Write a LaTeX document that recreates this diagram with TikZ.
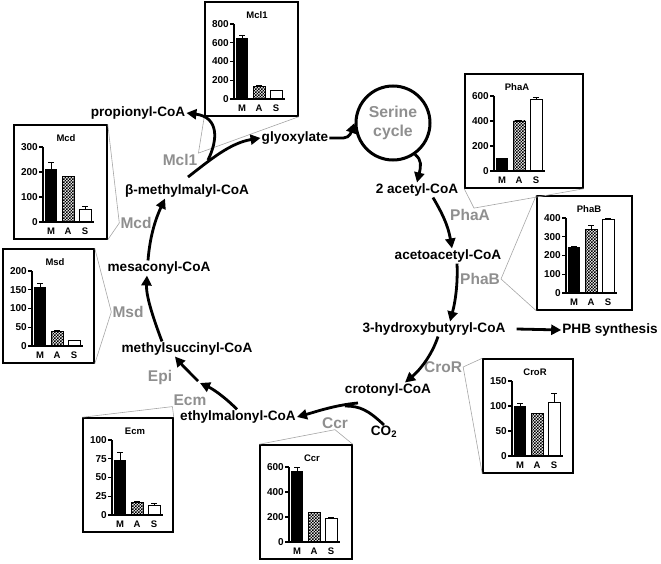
\documentclass[tikz,border=0pt]{standalone}
\usepackage{fontspec}
\setmainfont{Liberation Sans}
\usetikzlibrary{arrows.meta,patterns}
\definecolor{enzgray}{gray}{0.56}
\definecolor{calloutgray}{gray}{0.65}
\pgfdeclarepatternformonly{finecheck}{\pgfqpoint{-0.1pt}{-0.1pt}}{\pgfqpoint{3.1pt}{3.1pt}}{\pgfqpoint{3pt}{3pt}}{%
  \pgfpathrectangle{\pgfpointorigin}{\pgfqpoint{1.5pt}{1.5pt}}%
  \pgfpathrectangle{\pgfqpoint{1.5pt}{1.5pt}}{\pgfqpoint{1.5pt}{1.5pt}}%
  \pgfusepath{fill}}
\newcommand\setbars[6]{\gdef\bM{#1}\gdef\eM{#2}\gdef\bA{#3}\gdef\eA{#4}\gdef\bS{#5}\gdef\eS{#6}}
% #1 name, #2 left, #3 top, #4 title, #5 ymax, #6 ticks, #7 width
\newcommand\barchart[7]{%
\begin{scope}[shift={(#2,#3)}]
 \node[cbox, minimum width=#7pt] (#1) at ({#7/2},57) {};
 \node[ctitle] at (52,13) {#4};
 \pgfmathsetmacro\sc{75/#5}
 \foreach \tk in {#6} {\draw[axisl] (25,{97-\sc*\tk}) -- (29,{97-\sc*\tk}); \node[ctick] at (25,{97-\sc*\tk}) {\tk};}
 \pgfmathsetmacro\yM{97-\sc*\bM}\pgfmathsetmacro\yMe{97-\sc*(\bM+\eM)}
 \pgfmathsetmacro\yA{97-\sc*\bA}\pgfmathsetmacro\yAe{97-\sc*(\bA+\eA)}
 \pgfmathsetmacro\yS{97-\sc*\bS}\pgfmathsetmacro\ySe{97-\sc*(\bS+\eS)}
 \draw[errb] (37,\yM) -- (37,\yMe) (34,\yMe) -- (40,\yMe);
 \draw[errb] (54,\yA) -- (54,\yAe) (51,\yAe) -- (57,\yAe);
 \draw[errb] (71,\yS) -- (71,\ySe) (68,\ySe) -- (74,\ySe);
 \fill (31,97) rectangle (43,\yM);
 \draw[line width=0.8pt, pattern=finecheck] (48,97) rectangle (60,\yA);
 \draw[line width=0.8pt, fill=white] (65,97) rectangle (77,\yS);
 \draw[axisl] (29,22) -- (29,97) -- (80,97);
 \node[clab] at (37,106) {M}; \node[clab] at (54,106) {A}; \node[clab] at (71,106) {S};
\end{scope}}
\begin{document}
\begin{tikzpicture}[x=1pt,y=-1pt,
  met/.style={font=\fontsize{13.6}{15}\selectfont\bfseries, inner sep=1pt},
  enz/.style={font=\fontsize{15.5}{17}\selectfont\bfseries, text=enzgray, inner sep=1pt},
  arr/.style={line width=2.8pt, -{Triangle[length=10pt,width=10pt]}},
  plainarr/.style={line width=2.8pt},
  callout/.style={draw=calloutgray, line width=0.6pt},
  cbox/.style={draw, line width=1.5pt, minimum height=114pt, inner sep=0pt},
  ctitle/.style={font=\fontsize{9.5}{11}\selectfont\bfseries},
  ctick/.style={font=\fontsize{10}{11}\selectfont\bfseries, anchor=east, inner sep=1pt},
  clab/.style={font=\fontsize{9.5}{11}\selectfont\bfseries},
  axisl/.style={line width=1.2pt},
  errb/.style={line width=0.9pt},
]
\useasboundingbox (0,0) rectangle (661,564);

% charts
\setbars{650}{30}{135}{5}{90}{5}
\barchart{mcl1}{205}{2}{Mcl1}{800}{0,200,400,600,800}{93}
\setbars{100}{0}{400}{5}{570}{20}
\barchart{phaa}{465}{74}{PhaA}{600}{0,200,400,600}{118}
\setbars{245}{5}{340}{20}{390}{8}
\barchart{phab}{537}{196}{PhaB}{400}{0,100,200,300,400}{95}
\setbars{210}{30}{183}{0}{52}{10}
\barchart{mcd}{14}{125}{Mcd}{300}{0,100,200,300}{93}
\setbars{157}{9}{40}{2}{14}{2}
\barchart{msd}{3}{249}{Msd}{200}{0,50,100,150,200}{91}
\setbars{73}{10}{17}{1}{13}{3}
\barchart{ecm}{83}{418}{Ecm}{100}{0,25,50,75,100}{90}
\setbars{100}{6}{85}{0}{107}{19}
\barchart{cror}{483}{359}{CroR}{150}{0,50,100,150}{90}
\setbars{570}{30}{240}{0}{190}{8}
\barchart{ccr}{260}{445}{Ccr}{600}{0,200,400,600}{92}

% metabolites
\node[met] (prop) at (138,113) {propionyl-CoA};
\node[met] (glyox) at (295,138) {glyoxylate};
\node[met] (bmm) at (187,191) {β-methylmalyl-CoA};
\node[met] (acetyl) at (417,190) {2 acetyl-CoA};
\node[met] (acac) at (448,256) {acetoacetyl-CoA};
\node[met] (hb) at (434,329) {3-hydroxybutyryl-CoA};
\node[met] (phb) at (610,330) {PHB synthesis};
\node[met] (crot) at (388,390) {crotonyl-CoA};
\node[met] (co2) at (384,432) {CO\textsubscript{2}};
\node[met] (emal) at (238,417) {ethylmalonyl-CoA};
\node[met] (msucc) at (187,349) {methylsuccinyl-CoA};
\node[met] (mesa) at (159,268) {mesaconyl-CoA};
\node[draw, circle, line width=3pt, minimum size=74pt, inner sep=0pt, text=enzgray,
  font=\fontsize{15.8}{19}\selectfont\bfseries, align=center] (ser) at (393,123) {Serine\\cycle};

% enzymes
\node[enz] (lmcl) at (180,160) {Mcl1};
\node[enz] (lphaa) at (470,215) {PhaA};
\node[enz] (lphab) at (480,279) {PhaB};
\node[enz] (lcror) at (443,367) {CroR};
\node[enz] (lccr) at (335,423) {Ccr};
\node[enz] (lecm) at (190,400) {Ecm};
\node[enz] (lepi) at (160,377) {Epi};
\node[enz] (lmsd) at (128,312) {Msd};
\node[enz] (lmcd) at (136,223) {Mcd};

% callouts
\draw[callout] (mcl1.south west) -- (lmcl.north east) -- (mcl1.south east);
\draw[callout] (phaa.south west) -- ([xshift=4pt]lphaa.north) -- (phaa.south east);
\draw[callout] (phab.north west) -- (lphab.east) -- (phab.south west);
\draw[callout] (cror.north west) -- (lcror.east) -- (cror.south west);
\draw[callout] (ccr.north west) -- (lccr.south) -- (ccr.north east);
\draw[callout] (ecm.north west) -- (lecm.south west) -- (ecm.north east);
\draw[callout] (msd.north east) -- (lmsd.west) -- (msd.south east);
\draw[callout] (mcd.north east) -- (lmcd.west) -- (mcd.south east);

% arrows
\coordinate (glystart) at (188,177);
\coordinate (mclstart) at (208,160);
\draw[arr] (glystart) .. controls (210,160) and (230,143) .. (glyox.west);
\draw[arr] (mclstart) .. controls (218,140) and (219,117) .. (prop.east);
\draw[arr] (glyox.east) -- ++(14,0) .. controls (350,138) and (352,130) .. (ser.west);
\draw[arr] (ser.-55) .. controls (422,160) and (421,166) .. (acetyl.north);
\draw[arr] ([xshift=16pt]acetyl.south) .. controls (442,213) and (448,225) .. ([xshift=4pt]acac.north);
\draw[arr] ([xshift=9pt]acac.south) .. controls (458,285) and (455,303) .. ([xshift=16pt]hb.north);
\draw[arr] ([xshift=4pt]hb.south) .. controls (432,355) and (420,370) .. ([xshift=17pt]crot.north);
\coordinate (ccrstart) at (358,403);
\coordinate (co2join) at (345,406);
\draw[arr] (ccrstart) .. controls (335,405) and (315,412) .. (emal.east);
\draw[plainarr] (co2.north) .. controls (368,410) and (360,406) .. (co2join);
\coordinate (epimid) at (198,381);
\draw[arr] ([xshift=-1pt]emal.north) .. controls (228,400) and (215,390) .. ([xshift=2pt,yshift=-2pt]epimid);
\draw[arr] (epimid) .. controls (190,373) and (183,366) .. ([xshift=-12pt]msucc.south);
\draw[arr] ([xshift=-25pt]msucc.north) .. controls (152,315) and (146,295) .. ([xshift=-12pt]mesa.north |- mesa.south);
\draw[arr] ([xshift=-11pt]mesa.north) .. controls (150,235) and (156,218) .. ([xshift=-22pt]bmm.south);
\draw[arr] ([xshift=10pt]hb.east) -- (phb.west);
\end{tikzpicture}
\end{document}
